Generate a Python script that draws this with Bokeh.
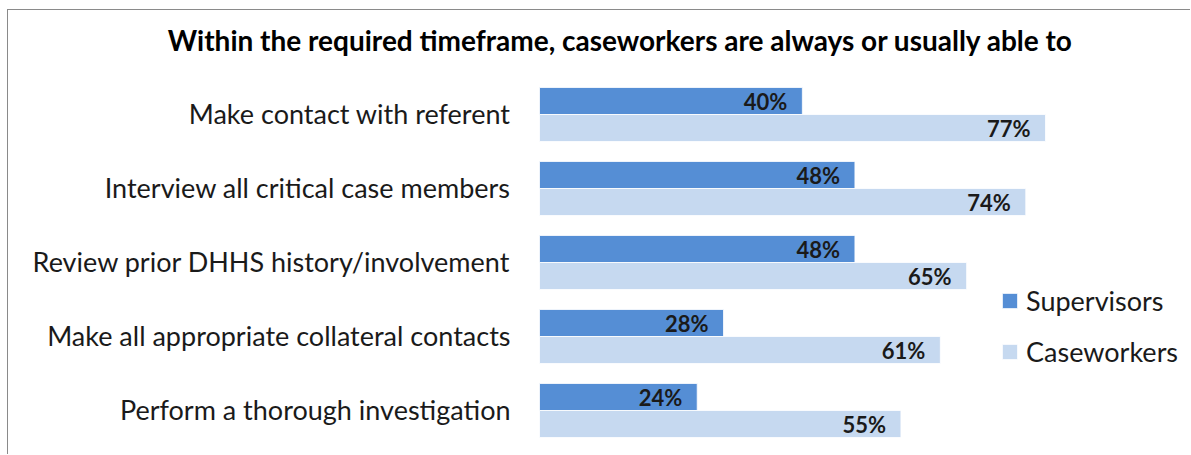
from bokeh.plotting import figure
from bokeh.models import Range1d, Label, Legend, LegendItem, ColumnDataSource
from bokeh.transform import dodge
from bokeh.core.properties import value
from bokeh.embed import file_html
from bokeh.resources import INLINE

title_text = "Within the required timeframe, caseworkers are always or usually able to"
categories = [
    "Make contact with referent",
    "Interview all critical case members",
    "Review prior DHHS history/involvement",
    "Make all appropriate collateral contacts",
    "Perform a thorough investigation",
]
supervisors = [40, 48, 48, 28, 24]
caseworkers = [77, 74, 65, 61, 55]
series_names = ["Supervisors", "Caseworkers"]

FONT = "Lato"
SUP_COLOR = "#558ED5"
CW_COLOR = "#C6D9F0"
TEXT_COLOR = "#1a1a1a"

idx = list(range(len(categories)))
src = ColumnDataSource(dict(
    y=idx,
    cat=categories,
    zero=[0] * len(categories),
    sup=supervisors,
    cw=caseworkers,
    sup_lbl=[f"{v}%" for v in supervisors],
    cw_lbl=[f"{v}%" for v in caseworkers],
))

# canvas geometry (pixels)
W, H = 1183, 445
left = 531                 # where value 0 sits
px_per_unit = 506 / 77.0
unit_px = 74.0             # category pitch
first_center = 104.0

p = figure(
    width=W, height=H,
    output_backend="svg", toolbar_location=None,
    x_range=Range1d(-left / px_per_unit, (W - left) / px_per_unit),
    y_range=Range1d((H - first_center) / unit_px, -first_center / unit_px),
    x_axis_location=None, y_axis_location=None,
    min_border_left=0, min_border_right=0, min_border_top=0, min_border_bottom=0,
)
p.outline_line_color = None
p.grid.visible = False
p.background_fill_color = "white"
p.border_fill_color = "white"
p.styles = {"margin-left": "7px", "margin-top": "9px",
            "border-top": "1px solid #8a8a8a", "border-left": "1px solid #8a8a8a"}

bar_h = 27.0 / unit_px
off = bar_h / 2.0

r_sup = p.hbar(y=dodge("y", -off), right="sup", left=0, height=bar_h, source=src,
               fill_color=SUP_COLOR, line_color="white", line_width=0.8)
r_cw = p.hbar(y=dodge("y", off), right="cw", left=0, height=bar_h, source=src,
              fill_color=CW_COLOR, line_color="white", line_width=0.8)

lbl_kw = dict(source=src, x_offset=-15, text_align="right", text_baseline="middle",
              text_font=value(FONT), text_font_style="bold", text_font_size="22px",
              text_color=TEXT_COLOR)
p.text(x="sup", y=dodge("y", -off), text="sup_lbl", **lbl_kw)
p.text(x="cw", y=dodge("y", off), text="cw_lbl", **lbl_kw)

# category labels
p.text(x="zero", y="y", text="cat", source=src, x_offset=-29, y_offset=-1,
       text_align="right", text_baseline="middle", text_font=value(FONT),
       text_font_size="27px", text_color=TEXT_COLOR)

p.add_layout(Label(x=(612 - left) / px_per_unit, y=-75 / unit_px, text=title_text,
                   text_align="center", text_baseline="middle", text_font=FONT,
                   text_font_style="bold", text_font_size="28px", text_color="black"))

legend = Legend(items=[LegendItem(label=series_names[0], renderers=[r_sup]),
                       LegendItem(label=series_names[1], renderers=[r_cw])],
                location=(992, 87), orientation="vertical",
                glyph_width=19, glyph_height=19, label_standoff=7,
                label_height=24, spacing=18, padding=10, margin=0,
                label_text_font=FONT, label_text_font_size="27px",
                label_text_color=TEXT_COLOR,
                border_line_color=None, background_fill_alpha=0)
p.add_layout(legend)

open("out.html", "w").write(file_html(p, INLINE))
